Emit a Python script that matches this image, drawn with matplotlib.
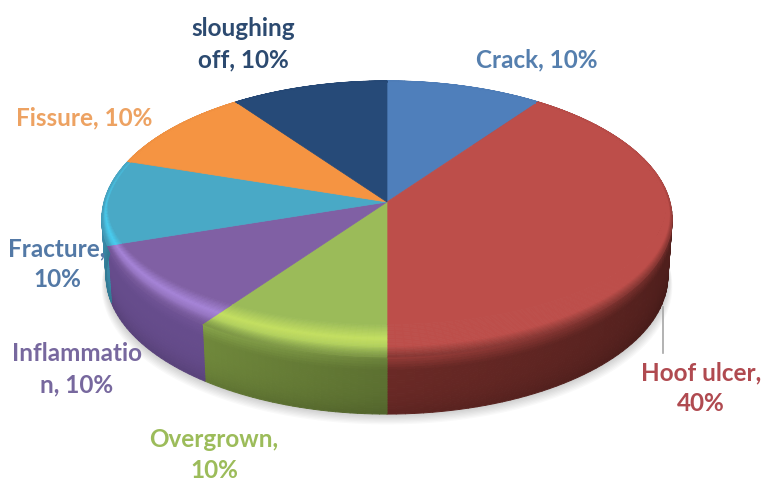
import matplotlib
matplotlib.use('Agg')
import matplotlib.pyplot as plt
import numpy as np
from matplotlib.collections import PolyCollection
from matplotlib.colors import to_rgb

# share of each defect, clockwise from twelve o'clock
names = ['Crack', 'Hoof ulcer', 'Overgrown', 'Inflammation', 'Fracture', 'Fissure', 'sloughing off']
values = [10, 40, 10, 10, 10, 10, 10]
top_colors = ['#4f7fbb', '#bd4e4a', '#9bbb59', '#8060a4', '#49a9c6', '#f59442', '#264a78']
wall_colors = ['#3a5f8c', '#5a2320', '#647a35', '#664c8c', '#3a8aa8', '#b86c2c', '#1a3354']
glow_colors = ['#6fa0e0', '#bd4e4a', '#c4e060', '#a684d8', '#48cdf0', '#ffb060', '#3a6aa0']
label_colors = ['#557fae', '#b04a50', '#9cbc5a', '#77689e', '#5379a6', '#eda262', '#2c4a70']

# wrapped the way the labels break on the chart
label_text = ['Crack, 10%', 'Hoof ulcer,\n40%', 'Overgrown,\n10%', 'Inflammatio\nn, 10%',
              'Fracture,\n10%', 'Fissure, 10%', 'sloughing\noff, 10%']
label_pos = [(537, 60), (701, 388), (214, 455), (77, 369), (57, 264), (84, 118), (243, 44)]

CX, CY = 387, 203
P = 0.123
DEPTH = 57


def project(r, th, z=0.0):
    # circle seen in perspective, th measured clockwise from the back of the pie
    u = r * np.sin(th)
    v = -r * np.cos(th)
    w = 1 - P * v
    k = 1 - 0.015 * z / DEPTH
    return CX + 283 * u / w * k, CY + 136 * v / w + z


def bevel_width(th):
    # the bevel reads wide at the front and almost nothing at the sides
    return 0.014 + 0.175 * np.clip(-np.cos(th), 0, 1) ** 1.3


def mix(a, b, t):
    return tuple((1 - t) * np.array(a) + t * np.array(b))


fig = plt.figure(figsize=(7.62, 4.81), dpi=100)
ax = fig.add_axes([0, 0, 1, 1])
ax.set_xlim(0, 762)
ax.set_ylim(481, 0)
ax.axis('off')

angles = np.r_[0, np.cumsum(values)] / np.sum(values) * 2 * np.pi

# soft shadow under the base
circle = np.linspace(0, 2 * np.pi, 240)
for grow in range(1, 9):
    sx, sy = project(1.0, circle, DEPTH)
    ax.fill(CX + (sx - CX) * (1 + grow * 0.002), sy + grow * 1.3, color='#000000',
            alpha=0.022, lw=0, zorder=1)

# side wall, drawn first so the top face covers what is behind it
for i in range(len(values)):
    thetas = np.linspace(angles[i], angles[i + 1], int(values[i] * 2) + 8)
    wall = to_rgb(wall_colors[i])
    polys, cols = [], []
    zs = np.linspace(0, DEPTH, 23)
    for a, b in zip(thetas[:-1], thetas[1:]):
        m = (a + b) / 2
        # hoof ulcer side gets darker away from the front, the rest stay flat
        shade = 1.0
        if i == 1:
            shade = 0.88 + 0.3 * np.clip((m - np.radians(110)) / np.radians(70), 0, 1)
        if i == 2:
            shade = 0.92 + 0.2 * np.clip((m - np.pi) / np.radians(36), 0, 1)
        for z0, z1 in zip(zs[:-1], zs[1:]):
            xa0, ya0 = project(1.0, a, z0)
            xb0, yb0 = project(1.0, b, z0)
            xb1, yb1 = project(1.0, b, z1)
            xa1, ya1 = project(1.0, a, z1)
            polys.append([(xa0, ya0), (xb0, yb0), (xb1, yb1), (xa1, ya1)])
            fade = np.clip(1 - z0 / 12, 0, 1)
            c = mix(wall, to_rgb(top_colors[i]), 0.35 * fade)
            c = np.clip(np.array(c) * shade * (1 - 0.14 * (z0 / DEPTH) ** 4), 0, 1)
            cols.append(c)
    ax.add_collection(PolyCollection(polys, facecolors=cols, edgecolors=cols, linewidths=0.7, zorder=2))

# top face with the bevel running round the front edge
steps = np.linspace(1.0, 0.0, 25)
for i in range(len(values)):
    thetas = np.linspace(angles[i], angles[i + 1], int(values[i] * 2) + 8)
    top = to_rgb(top_colors[i])
    wall = to_rgb(wall_colors[i])
    shine = to_rgb(glow_colors[i])
    # flat part of the slice
    inner_t = np.linspace(angles[i], angles[i + 1], 60)
    ix, iy = project(1 - bevel_width(inner_t), inner_t)
    ax.fill(np.r_[CX, ix], np.r_[CY, iy], color=top, lw=0.5, zorder=3)
    polys, cols = [], []
    for a, b in zip(thetas[:-1], thetas[1:]):
        m = (a + b) / 2
        front = np.clip((-np.cos(m) + 0.2) / 0.5, 0, 1)
        glow = front
        if i == 4:
            glow = np.clip((-np.cos(m) + 0.7) / 0.9, 0, 1)
        for t0, t1 in zip(steps[:-1], steps[1:]):
            r_a0, r_a1 = 1 - t0 * bevel_width(a), 1 - t1 * bevel_width(a)
            r_b0, r_b1 = 1 - t0 * bevel_width(b), 1 - t1 * bevel_width(b)
            xa0, ya0 = project(r_a0, a)
            xb0, yb0 = project(r_b0, b)
            xb1, yb1 = project(r_b1, b)
            xa1, ya1 = project(r_a1, a)
            polys.append([(xa0, ya0), (xb0, yb0), (xb1, yb1), (xa1, ya1)])
            t = (t0 + t1) / 2
            # t=0 at the rim, t=1 where the flat face starts
            rise = np.clip((1 - t) / 0.45, 0, 1) * np.clip(t / 0.55, 0, 1)
            c = mix(top, shine, glow * rise)
            edge = np.clip((0.32 - t) / 0.32, 0, 1) * (0.1 + 0.7 * front)
            c = mix(c, mix(top, wall, 0.7), edge)
            cols.append(c)
    ax.add_collection(PolyCollection(polys, facecolors=cols, edgecolors=cols, linewidths=0.5, zorder=4))

# leader line for the big slice
ax.plot([663, 663], [308, 354], color='#a6a6a6', lw=1.2, zorder=5)

for text, pos, color in zip(label_text, label_pos, label_colors):
    ax.text(pos[0], pos[1], text, color=color, family='Lato', weight='bold', fontsize=17.5,
            ha='center', va='center', linespacing=1.42, zorder=6)

fig.savefig('out.png', dpi=100)
